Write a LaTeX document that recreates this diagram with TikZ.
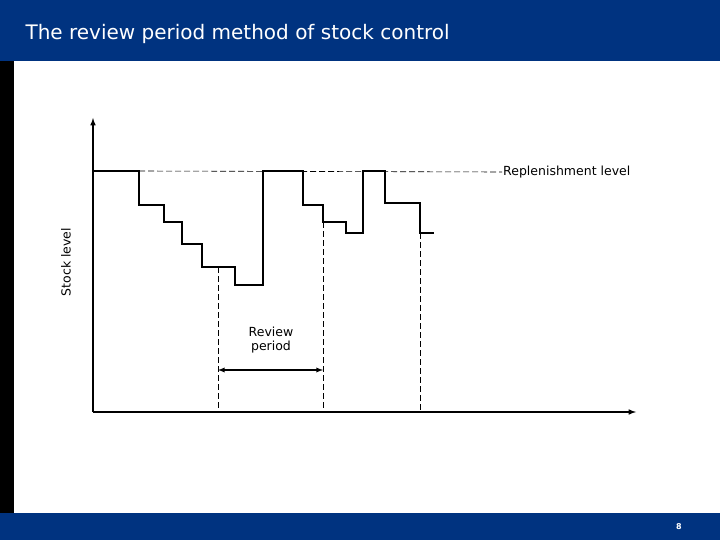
\documentclass[tikz,border=0pt]{standalone}
\usepackage{fontspec}
\setmainfont{DejaVu Sans}
\begin{document}
\begin{tikzpicture}[x=1pt,y=-1pt,
  stock/.style={line width=2.6pt,line cap=rect},
  guide/.style={dashed,line width=0.6pt,dash pattern=on 6pt off 3pt},
  lbl/.style={font=\fontsize{12.5}{14}\selectfont,align=center,inner sep=1pt}]
\definecolor{navy}{RGB}{0,51,128}
\useasboundingbox (0,0) rectangle (720,540);
\fill[navy] (0,0) rectangle (720,61);
\fill[black] (0,61) rectangle (14,513);
\fill[navy] (0,513) rectangle (720,540);
\node[anchor=west,text=white,font=\fontsize{20}{24}\selectfont] (title) at (22,34) {The review period method of stock control};
\node[text=white,font=\bfseries\fontsize{8}{9}\selectfont] (pg) at (679,527) {8};
% axes
\coordinate (o) at (93,412);
\coordinate (ytop) at (93,118);
\coordinate (xend) at (636,412);
\draw[line width=1.5pt,-latex] (o) -- (ytop);
\draw[line width=1.5pt,-latex] (o) -- (xend);
\node[lbl,rotate=90] (sl) at (66,262) {Stock level};
% replenishment
\node[lbl,anchor=west] (rl) at (502,172) {Replenishment level};
\coordinate (r0) at (139,171);
\draw[guide] (r0) -- (rl.west);
% review lines
\coordinate (a1) at (218,267); \coordinate (a2) at (218,412);
\coordinate (b1) at (323,222); \coordinate (b2) at (323,412);
\coordinate (c1) at (420,233); \coordinate (c2) at (420,412);
\draw[guide] (a1) -- (a2);
\draw[guide] (b1) -- (b2);
\draw[guide] (c1) -- (c2);
\coordinate (p1) at (218,370); \coordinate (p2) at (323,370);
\draw[line width=1.3pt,latex-latex] (p1) -- (p2);
\node[lbl] (rp) at (271,340) {Review\\period};
% stock line
\draw[line width=2.6pt,line join=miter] (93,171) -| (139,205) -| (164,222) -| (182,244) -| (202,267) -| (235,285) -| (263,171) -| (303,205) -| (323,222) -| (346,233) -| (363,171) -| (385,203) -| (420,233) -- (434,233);
\end{tikzpicture}
\end{document}
